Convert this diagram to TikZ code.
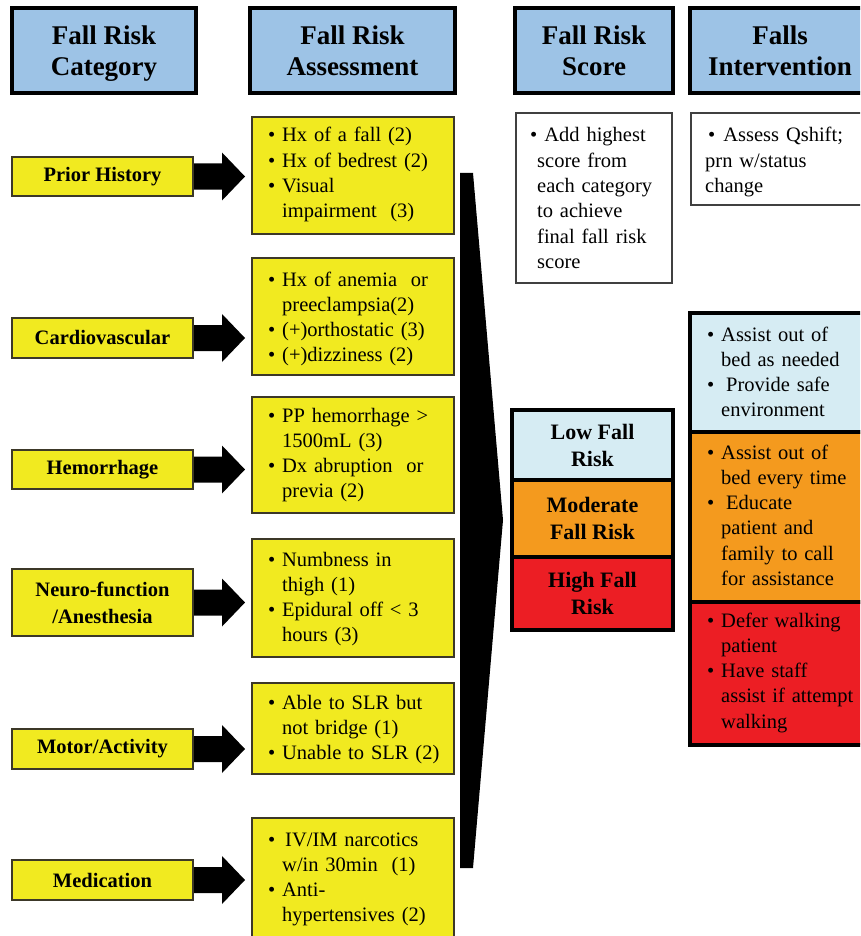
\documentclass[tikz,border=0pt]{standalone}
\usepackage{fontspec}
\setmainfont{Liberation Serif}
\usetikzlibrary{calc}
\definecolor{hdr}{RGB}{157,195,230}
\definecolor{yel}{RGB}{241,234,32}
\definecolor{edge}{RGB}{60,56,40}
\definecolor{wedge}{RGB}{64,64,64}
\definecolor{lowb}{RGB}{214,236,243}
\definecolor{orng}{RGB}{244,154,30}
\definecolor{redd}{RGB}{236,30,36}
\newcommand\fbul{\noindent\llap{\textbullet\hskip 7pt}}
\newcommand\bul{\par\noindent\llap{\textbullet\hskip 7pt}}
\newcommand\blockarrow[2]{%
  \fill ($(#1.east)+(0,-13)$) -- ($(#2.west|-#1.east)+(-29,-13)$)
    -- ($(#2.west|-#1.east)+(-29,-24)$) -- ($(#2.west|-#1.east)+(-6,0)$)
    -- ($(#2.west|-#1.east)+(-29,24)$) -- ($(#2.west|-#1.east)+(-29,13)$)
    -- ($(#1.east)+(0,13)$) -- cycle;}
\tikzset{
  hdrbox/.style={draw=black, line width=4pt, fill=hdr, inner sep=0pt, minimum height=85pt},
  hdrtxt/.style={inner sep=0pt, font=\fontsize{27}{31}\selectfont\bfseries, align=center},
  catbox/.style={draw=edge, line width=2pt, fill=yel, inner sep=0pt,
    font=\fontsize{20.5}{27}\selectfont\bfseries, align=center, minimum width=181pt},
  assbox/.style={draw=edge, line width=2pt, fill=yel, inner sep=0pt, minimum width=202pt},
  whitebox/.style={draw=wedge, line width=2pt, fill=white, inner sep=0pt},
  riskbox/.style={draw=black, line width=4pt, inner sep=0pt, minimum width=161pt,
    font=\fontsize{22}{27}\selectfont\bfseries, align=center},
  intbox/.style={draw=black, line width=4pt, inner sep=0pt, minimum width=185pt},
  txt/.style={anchor=base west, inner sep=0pt, text width=#1,
    font=\fontsize{20.5}{25.3}\selectfont},
}
\begin{document}
\begin{tikzpicture}[x=1pt,y=-1pt]
\useasboundingbox (0,0) rectangle (860,936);
\fill[white] (0,0) rectangle (860,936);
\clip (0,0) rectangle (860,936);

% headers
\node[hdrbox, minimum width=184pt] (h1) at (104,50.5) {};
\node[hdrbox, minimum width=205pt] (h2) at (352.5,50.5) {};
\node[hdrbox, minimum width=158pt] (h3) at (594,50.5) {};
\node[hdrbox, minimum width=186pt] (h4) at (783,50.5) {};
\node[hdrtxt, anchor=base] (h1t) at (104,76) {Fall Risk\\Category};
\node[hdrtxt, anchor=base] (h2t) at (352.5,76) {Fall Risk\\Assessment};
\node[hdrtxt, anchor=base] (h3t) at (594,76) {Fall Risk\\Score};
\node[hdrtxt, anchor=base] (h4t) at (780,76) {Falls\\Intervention};

% category boxes
\node[catbox, minimum height=39pt] (c1) at (102.5,176.5) {Prior History};
\node[catbox, minimum height=40pt] (c2) at (102.5,338) {Cardiovascular};
\node[catbox, minimum height=39pt] (c3) at (102.5,469.5) {Hemorrhage};
\node[catbox, minimum height=67pt] (c4) at (102.5,602.5) {Neuro-function\\/Anesthesia};
\node[catbox, minimum height=40pt] (c5) at (102.5,749) {Motor/Activity};
\node[catbox, minimum height=40pt] (c6) at (102.5,880) {Medication};

% assessment boxes
\node[assbox, minimum height=117pt] (a1) at (353,175.5) {};
\node[assbox, minimum height=117pt] (a2) at (353,316.5) {};
\node[assbox, minimum height=116pt] (a3) at (353,455) {};
\node[assbox, minimum height=118pt] (a4) at (353,598) {};
\node[assbox, minimum height=91pt] (a5) at (353,728.5) {};
\node[assbox, minimum height=127pt] (a6) at (353,881.5) {};

\node[txt=185pt] (t1) at (268,142) {\leftskip=14pt
  \fbul Hx of a fall (2)\bul Hx of bedrest (2)\bul Visual\\impairment\ \ (3)\par};
\node[txt=185pt] (t2) at (268,286) {\leftskip=14pt
  \fbul Hx of anemia\ \ or\\preeclampsia(2)\bul (+)orthostatic (3)\bul (+)dizziness (2)\par};
\node[txt=185pt] (t3) at (268,422) {\leftskip=14pt
  \fbul PP hemorrhage >\\1500mL (3)\bul Dx abruption\ \ or\\previa (2)\par};
\node[txt=185pt] (t4) at (268,566) {\leftskip=14pt
  \fbul Numbness in\\thigh (1)\bul Epidural off < 3\\hours (3)\par};
\node[txt=185pt] (t5) at (268,709) {\leftskip=14pt
  \fbul Able to SLR but\\not bridge (1)\bul Unable to SLR (2)\par};
\node[txt=185pt] (t6) at (268,846) {\leftskip=14pt
  \fbul \hspace{3pt}IV/IM narcotics\\w/in 30min\ \ (1)\bul Anti-\\hypertensives (2)\par};

% arrows
\blockarrow{c1}{a1}
\blockarrow{c2}{a2}
\blockarrow{c3}{a3}
\blockarrow{c4}{a4}
\blockarrow{c5}{a5}
\blockarrow{c6}{a6}

% big converging arrow
\fill (460,173) -- (473,173) -- (503,520) -- (473,868) -- (460,868) -- cycle;

% score column
\node[whitebox, minimum width=156pt, minimum height=170pt] (s0) at (594,198) {};
\node[txt=140pt] (st) at (537,142) {\hspace*{-7pt}\textbullet\hspace{7pt}Add highest\\score from\\each category\\to achieve\\final fall risk\\score};

\node[riskbox, fill=lowb, minimum height=70pt] (r1) at (592.5,445) {Low Fall\\Risk};
\node[riskbox, fill=orng, minimum height=77pt] (r2) at (592.5,518.5) {Moderate\\Fall Risk};
\node[riskbox, fill=redd, minimum height=73pt] (r3) at (592.5,593.5) {High Fall\\Risk};

% intervention column
\node[whitebox, minimum width=184pt, minimum height=92pt] (i0) at (783,159) {};
\node[txt=150pt] (it) at (705,142) {\hspace*{3pt}\textbullet\hspace{8pt}Assess Qshift;\\prn w/status\\change};

\node[intbox, fill=lowb, minimum height=119pt] (i1) at (782.5,372.5) {};
\node[intbox, fill=orng, minimum height=170pt] (i2) at (782.5,517) {};
\node[intbox, fill=redd, minimum height=143pt] (i3) at (782.5,673.5) {};

\node[txt=150pt] (it1) at (707,341) {\leftskip=14pt
  \fbul Assist out of\\bed as needed\bul \hspace{5pt}Provide safe\\environment\par};
\node[txt=150pt] (it2) at (707,459) {\leftskip=14pt
  \fbul Assist out of\\bed every time\bul \hspace{5pt}Educate\\patient and\\family to call\\for assistance\par};
\node[txt=150pt] (it3) at (707,627) {\leftskip=14pt
  \fbul Defer walking\\patient\bul Have staff\\assist if attempt\\walking\par};
\end{tikzpicture}
\end{document}
